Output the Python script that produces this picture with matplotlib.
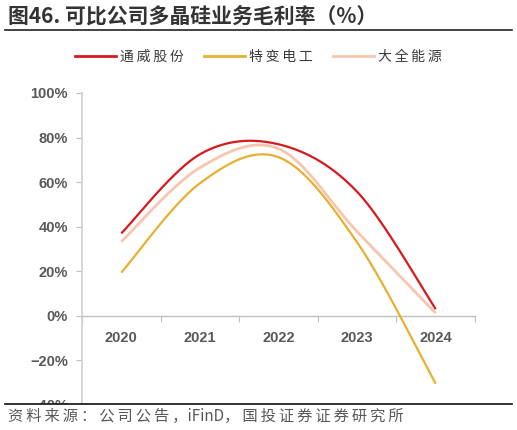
import numpy as np
import matplotlib
matplotlib.use("Agg")
import matplotlib.pyplot as plt
from matplotlib.lines import Line2D

plt.rcParams['font.family'] = ['Liberation Sans', 'Noto Sans CJK SC', 'DejaVu Sans']

years = ['2020', '2021', '2022', '2023', '2024']
tongwei = [37.0, 72.5, 77.0, 55.7, 3.0]
tebian = [19.4, 59.5, 71.2, 33.0, -30.5]
daquan = [33.3, 66.5, 75.0, 37.8, 1.2]
names = ['通威股份', '特变电工', '大全能源']
colors = ['#D7191F', '#E8B030', '#F8C6AE']
widths = [1.6, 1.6, 2.0]
yticks = [-40, -20, 0, 20, 40, 60, 80, 100]

CJK = ['Noto Sans CJK SC', 'DejaVu Sans']


def spaced(s, sep='\u2009'):
    return sep.join(list(s))


def smooth(y, n=40):
    # Excel-style smoothed line: cubic Bezier with Catmull-Rom control points
    x = np.arange(len(y), dtype=float)
    P = np.column_stack([x, np.asarray(y, float)])
    out = []
    for i in range(len(P) - 1):
        p0 = P[i - 1] if i > 0 else P[i]
        p1, p2 = P[i], P[i + 1]
        p3 = P[i + 2] if i + 2 < len(P) else P[i + 1]
        b1 = p1 + (p2 - p0) / 6.0
        b2 = p2 - (p3 - p1) / 6.0
        t = np.linspace(0, 1, n)[:, None]
        seg = ((1 - t) ** 3) * p1 + 3 * ((1 - t) ** 2) * t * b1 + 3 * (1 - t) * t ** 2 * b2 + t ** 3 * p2
        out.append(seg if i == 0 else seg[1:])
    s = np.vstack(out)
    return s[:, 0], s[:, 1]


fig = plt.figure(figsize=(5.17, 4.30), dpi=100)
ax = fig.add_axes([82 / 517, 1 - 405 / 430, (475 - 82) / 517, (405 - 93) / 430])

series = [tongwei, tebian, daquan]
for k in [2, 1, 0]:
    xs, ys = smooth(series[k])
    ax.plot(xs, ys, color=colors[k], lw=widths[k], solid_capstyle='butt', zorder=3 + (2 - k))

ax.set_xlim(-0.5, len(years) - 0.5)
ax.set_ylim(-40, 100)
ax.set_yticks(yticks)
ax.set_yticklabels([('\u2212' if v < 0 else '') + f'{abs(v)}%' for v in yticks])

ax.spines['top'].set_visible(False)
ax.spines['right'].set_visible(False)
ax.spines['bottom'].set_position(('data', 0))
ax.spines['bottom'].set_color('#BFBFBF')
ax.spines['left'].set_color('#D0D0D0')
ax.spines['bottom'].set_linewidth(1.0)
ax.spines['left'].set_linewidth(1.2)

ax.set_xticks(np.arange(len(years) + 1) - 0.5)
ax.set_xticklabels([])
ax.set_xticks(np.arange(len(years)), minor=True)
ax.set_xticklabels(years, minor=True)
ax.tick_params(axis='x', which='major', length=4, color='#BFBFBF', direction='out')
ax.tick_params(axis='x', which='minor', length=0, pad=11, labelsize=10.5, labelcolor='#595959')
ax.tick_params(axis='y', length=4, color='#BFBFBF', pad=6, labelsize=10.5, labelcolor='#595959')
for lab in ax.get_xticklabels(minor=True) + ax.get_yticklabels():
    lab.set_fontweight('bold')

# legend
handles = [Line2D([0], [0], color=colors[i], lw=2) for i in range(3)]
fig.legend(handles, [spaced(n) for n in names], loc='center', bbox_to_anchor=(0.5, 1 - 57 / 430), ncol=3,
           frameon=False, handlelength=2.9, handletextpad=0.3, columnspacing=1.5,
           prop={'family': CJK, 'size': 10}, labelcolor='#3A3A3A')

# title
fig.text(8 / 517, 1 - 16 / 430, '图46. 可比公司多晶硅业务毛利率（%）', ha='left', va='center',
         fontsize=15, fontweight='bold', color='#333333', family=CJK)
fig.add_artist(Line2D([5 / 517, 512 / 517], [1 - 30 / 430] * 2, color='#222222', lw=1.2))

# footer mask and source
fig.add_artist(plt.Rectangle((0, 0), 1, (430 - 404) / 430, transform=fig.transFigure,
                             facecolor='white', edgecolor='none', zorder=10))
fig.add_artist(Line2D([5 / 517, 512 / 517], [1 - 404 / 430] * 2, color='#111111', lw=1.2, zorder=11))
fig.text(8 / 517, 1 - 416 / 430, spaced('资料来源：公司公告，') + 'iFinD' + spaced('，国投证券证券研究所'),
         ha='left', va='center', fontsize=11, style='italic', color='#595959', family=CJK, zorder=12)

fig.savefig('out.png', dpi=100)
